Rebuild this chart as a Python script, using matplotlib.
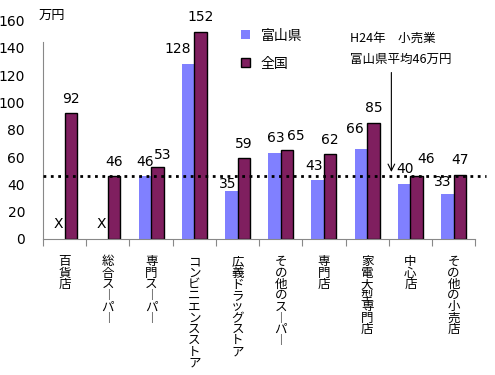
import matplotlib.pyplot as plt
import numpy as np

plt.rcParams['font.family'] = ['Noto Sans CJK JP', 'DejaVu Sans']

categories = ['百貨店', '総合スーパー', '専門スーパー', 'コンビニエンスストア', '広義ドラッグストア',
              'その他のスーパー', '専門店', '家電大型専門店', '中心店', 'その他の小売店']
toyama = [0, 0, 46, 128, 35, 63, 43, 66, 40, 33]
toyama_lbl = ['X', 'X', '46', '128', '35', '63', '43', '66', '40', '33']
zenkoku = [92, 46, 53, 152, 59, 65, 62, 85, 46, 47]
avg_toyama = 46

# label nudges in pixels (Excel moved some labels to avoid overlaps)
t_dx = [0, 0, 0, -10, -4, 1, -4, -6, 1, -5]
t_dy = [15, 15, 14, 15, 7, 15, 14, 20, 15, 12]
z_dx = [0, 0, 5, 0, 0, 9, 0, 0, 9, 0]
z_dy = [14, 14, 12, 15, 14, 14, 14, 15, 17, 15]

def vert(s):
    # stack characters top to bottom, long vowel mark drawn vertical
    return '\n'.join('︱' if c == 'ー' else c for c in s)

fig = plt.figure(figsize=(4.95, 3.75), dpi=100)
ax = fig.add_axes([0.087, 0.363, 0.873, 0.582])

x = np.arange(len(categories))
w = 0.29
ax.bar(x - w/2, toyama, w, color='#8080FF', label='富山県')
ax.bar(x + w/2, zenkoku, w, color='#7F1F5F', edgecolor='black', linewidth=1, label='全国')

for i in range(len(x)):
    ax.annotate(toyama_lbl[i], (x[i] - w/2, toyama[i]), xytext=(t_dx[i], t_dy[i]),
                textcoords='offset pixels', ha='center', va='center', fontsize=10,
                family=['DejaVu Sans'])
    ax.annotate(str(zenkoku[i]), (x[i] + w/2, zenkoku[i]), xytext=(z_dx[i], z_dy[i]),
                textcoords='offset pixels', ha='center', va='center', fontsize=10,
                family=['DejaVu Sans'])

ax.plot([0, 1.025], [avg_toyama, avg_toyama], transform=ax.get_yaxis_transform(),
        color='black', linestyle=':', linewidth=2, clip_on=False, zorder=5)

ax.set_xlim(-0.5, len(categories) - 0.5)
ax.set_ylim(0, 160)
ax.set_yticks(range(0, 161, 20))
ax.tick_params(axis='y', length=0, pad=13, labelsize=10)
for lab in ax.get_yticklabels():
    lab.set_family(['DejaVu Sans'])

ax.set_xticks(np.arange(-0.5, len(categories), 1))
ax.set_xticklabels([])
ax.tick_params(axis='x', length=5, color='#888888', direction='out')
for xi, c in zip(x, categories):
    ax.text(xi, -0.075, vert(c), transform=ax.get_xaxis_transform(), ha='center', va='top',
            fontsize=9, linespacing=0.83)

for s in ['top', 'right']:
    ax.spines[s].set_visible(False)
ax.spines['left'].set_color('#888888')
ax.spines['bottom'].set_color('#888888')
ax.spines['left'].set_bounds(0, 144)

ax.text(0.077, 0.975, '万円', transform=fig.transFigure, fontsize=9.5, va='top')

ax.legend(loc='upper left', bbox_to_anchor=(0.43, 1.02), frameon=False, fontsize=10,
          handlelength=0.6, handleheight=0.6, labelspacing=1.0)

ax.text(0.707, 0.915, 'H24年　小売業\n富山県平均46万円', transform=fig.transFigure,
        fontsize=9, va='top', ha='left', linespacing=1.75)
ax.annotate('', xy=(7.56, avg_toyama + 1), xytext=(7.56, 124),
            arrowprops=dict(arrowstyle='->', color='black', linewidth=0.8, mutation_scale=12))

fig.savefig('out.png')
